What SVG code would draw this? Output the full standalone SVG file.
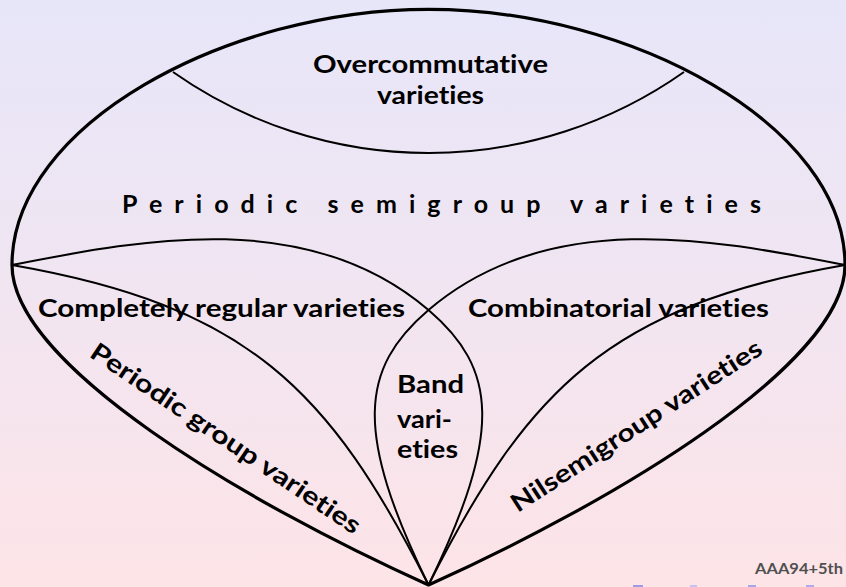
<svg xmlns="http://www.w3.org/2000/svg" width="846" height="587" viewBox="0 0 846 587">
  <defs>
    <linearGradient id="bg" x1="0" y1="0" x2="0" y2="1">
      <stop offset="0" stop-color="#e7e6f9"/>
      <stop offset="0.5" stop-color="#f1e5f1"/>
      <stop offset="1" stop-color="#fde4e7"/>
    </linearGradient>
    <style>
      .outer { fill: none; stroke: #000; stroke-width: 3.2; stroke-linejoin: round; }
      .inner { fill: none; stroke: #000; stroke-width: 2; }
      .lbl { font-family: Lato, "Liberation Sans", "DejaVu Sans", sans-serif; font-weight: 700; font-size: 25px; fill: #000; font-variant-ligatures: none; font-feature-settings: "liga" 0, "clig" 0; }
      .foot { font-family: Lato, "Liberation Sans", sans-serif; font-weight: 700; font-size: 15px; fill: #505050; font-variant-ligatures: none; }
      .nav { stroke: none; }
    </style>
  </defs>
  <rect x="0" y="0" width="846" height="587" fill="url(#bg)"/>

  <g id="connectors">
    <!-- outer boundary -->
    <path class="outer" d="M12,265 C12,125 226.5,9.3 428.5,9.3 C630.5,9.3 845,125 845,265 C845,365 611,503 428.5,585 C246,503 12,365 12,265 Z"/>
    <!-- overcommutative boundary -->
    <path class="inner" d="M173,72 A443.5,443.5 0 0 0 684,72"/>
    <!-- completely regular upper / band right -->
    <path class="inner" d="M12,265 C139.4,240.3 306.9,206 428.5,310 C496.9,368.5 503.3,432 428.5,585"/>
    <!-- combinatorial upper / band left -->
    <path class="inner" d="M845,265 C717.6,240.3 550.1,206 428.5,310 C360.1,368.5 353.7,432 428.5,585"/>
    <!-- completely regular lower (periodic group boundary) -->
    <path class="inner" d="M12,265 C248,306 329.5,389 428.5,585"/>
    <!-- combinatorial lower (nilsemigroup boundary) -->
    <path class="inner" d="M845,265 C609,306 527.5,389 428.5,585"/>
  </g>

  <g id="overcommutative">
    <text class="lbl" x="430.5" y="72.7" text-anchor="middle" textLength="235" lengthAdjust="spacingAndGlyphs">Overcommutative</text>
    <text class="lbl" x="430.5" y="104" text-anchor="middle" textLength="107" lengthAdjust="spacingAndGlyphs">varieties</text>
  </g>
  <g id="periodic-semigroup">
    <text class="lbl" x="122" y="213" textLength="639" lengthAdjust="spacing">Periodic semigroup varieties</text>
  </g>
  <g id="completely-regular">
    <text class="lbl" x="38" y="316.7" textLength="367" lengthAdjust="spacingAndGlyphs">Completely regular varieties</text>
  </g>
  <g id="combinatorial">
    <text class="lbl" x="468" y="317" textLength="301" lengthAdjust="spacingAndGlyphs">Combinatorial varieties</text>
  </g>
  <g id="band">
    <text class="lbl" x="397" y="393" textLength="67" lengthAdjust="spacingAndGlyphs">Band</text>
    <text class="lbl" x="397" y="428" textLength="55" lengthAdjust="spacingAndGlyphs">vari-</text>
    <text class="lbl" x="397" y="458" textLength="61" lengthAdjust="spacingAndGlyphs">eties</text>
  </g>
  <g id="periodic-group">
    <text class="lbl" transform="translate(221,445.5) rotate(34)" x="0" y="0" text-anchor="middle" textLength="320" lengthAdjust="spacingAndGlyphs">Periodic group varieties</text>
  </g>
  <g id="nilsemigroup">
    <text class="lbl" transform="translate(641,433) rotate(-33)" x="0" y="0" text-anchor="middle" textLength="294" lengthAdjust="spacingAndGlyphs">Nilsemigroup varieties</text>
  </g>
  <g id="footer">
    <text class="foot" x="755" y="574" textLength="88" lengthAdjust="spacingAndGlyphs">AAA94+5th</text>
    <rect class="nav" x="633" y="585" width="10" height="2" fill="#9c9ce2"/>
    <rect class="nav" x="690" y="585" width="7" height="2" fill="#c4c4f0"/>
    <rect class="nav" x="748" y="585" width="8" height="2" fill="#a6a6e6"/>
    <rect class="nav" x="806" y="585" width="8" height="2" fill="#acacea"/>
  </g>
</svg>
